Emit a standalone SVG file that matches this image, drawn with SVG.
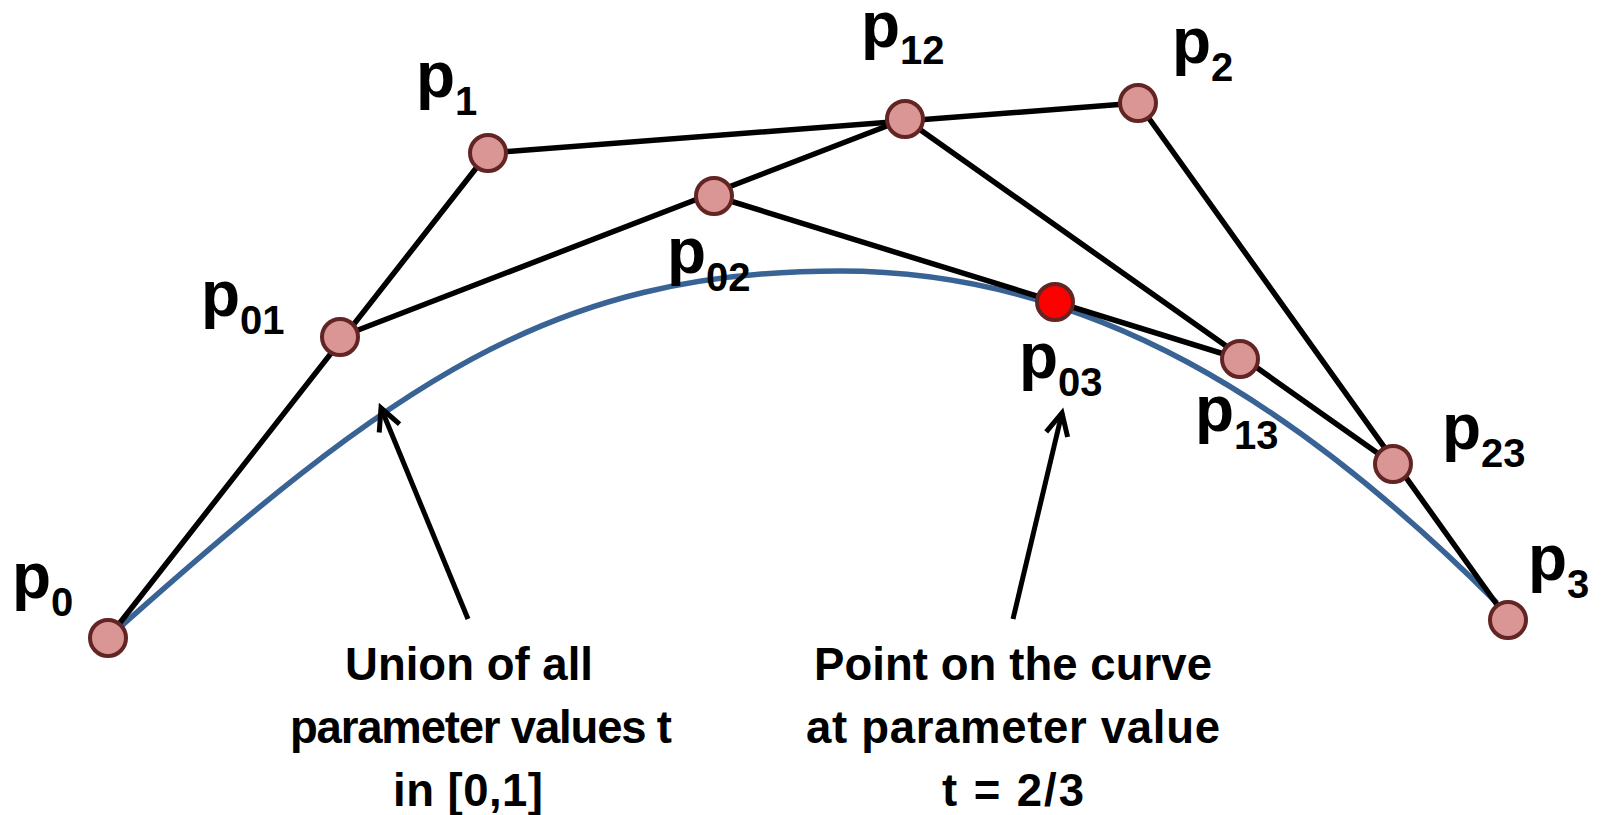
<svg xmlns="http://www.w3.org/2000/svg" width="1602" height="815" viewBox="0 0 1602 815">
<style>
.poly{fill:none;stroke:#000;stroke-width:5.5;stroke-linejoin:round}
.curve{fill:none;stroke:#3A6395;stroke-width:5.5}
.arrow{fill:none;stroke:#000;stroke-width:5;marker-end:url(#ah)}
.pt{fill:#D99694;stroke:#632523;stroke-width:4}
.hit{fill:#FF0000;stroke:#632523;stroke-width:4}
.lbl{font-family:"Liberation Sans",Arial,sans-serif;font-weight:bold;font-size:64px;fill:#000}
.sub{font-size:40px}
.cap{font-family:"Liberation Sans",Arial,sans-serif;font-weight:bold;font-size:45.5px;fill:#000;text-anchor:middle}
</style>
<defs>
<marker id="ah" markerUnits="userSpaceOnUse" viewBox="-30 -16 36 32" markerWidth="36" markerHeight="32" refX="0" refY="0" orient="auto">
<path d="M-22,-11 L0,0 L-22,11" fill="none" stroke="#000" stroke-width="5" stroke-linejoin="miter"/>
</marker>
</defs>
<g id="connectors">
<path id="bezier-curve" class="curve" d="M108,638 C393,383 550,271 840,271 C1090,271 1297,403 1497,603"/>
<path id="control-polygon" class="poly" d="M108,638 L488,153 L1138,103 L1508,620"/>
<path id="level1" class="poly" d="M340,337 L905,119 L1393,464"/>
<path id="level2" class="poly" d="M714,196 L1240,359"/>
<path id="arrow-curve" class="arrow" d="M468,619 L381,408"/>
<path id="arrow-point" class="arrow" d="M1013,619 L1062,413"/>
</g>
<g id="node-p0"><circle class="pt" cx="108" cy="638" r="18"/><text class="lbl" x="12" y="598">p<tspan class="sub" dy="18">0</tspan></text></g>
<g id="node-p1"><circle class="pt" cx="488" cy="153" r="18"/><text class="lbl" x="416" y="97">p<tspan class="sub" dy="18">1</tspan></text></g>
<g id="node-p2"><circle class="pt" cx="1138" cy="103" r="18"/><text class="lbl" x="1172" y="63">p<tspan class="sub" dy="18">2</tspan></text></g>
<g id="node-p3"><circle class="pt" cx="1508" cy="620" r="18"/><text class="lbl" x="1528" y="580">p<tspan class="sub" dy="18">3</tspan></text></g>
<g id="node-p01"><circle class="pt" cx="340" cy="337" r="18"/><text class="lbl" x="201" y="316">p<tspan class="sub" dy="18">01</tspan></text></g>
<g id="node-p12"><circle class="pt" cx="905" cy="119" r="18"/><text class="lbl" x="861" y="47">p<tspan class="sub" dy="17">12</tspan></text></g>
<g id="node-p23"><circle class="pt" cx="1393" cy="464" r="18"/><text class="lbl" x="1442" y="449">p<tspan class="sub" dy="18">23</tspan></text></g>
<g id="node-p02"><circle class="pt" cx="714" cy="196" r="18"/><text class="lbl" x="667" y="273">p<tspan class="sub" dy="18">02</tspan></text></g>
<g id="node-p13"><circle class="pt" cx="1240" cy="359" r="18"/><text class="lbl" x="1195" y="431">p<tspan class="sub" dy="18">13</tspan></text></g>
<g id="node-p03"><circle class="hit" cx="1055" cy="302" r="18"/><text class="lbl" x="1019" y="378">p<tspan class="sub" dy="18">03</tspan></text></g>
<g id="label-union">
<text class="cap" x="469" y="680" textLength="248">Union of all</text>
<text class="cap" x="481" y="743" textLength="382">parameter values t</text>
<text class="cap" x="468" y="806" textLength="150">in [0,1]</text>
</g>
<g id="label-point">
<text class="cap" x="1013" y="680" textLength="398">Point on the curve</text>
<text class="cap" x="1013" y="743" textLength="414">at parameter value</text>
<text class="cap" x="1013" y="806" textLength="142">t = 2/3</text>
</g>
</svg>
